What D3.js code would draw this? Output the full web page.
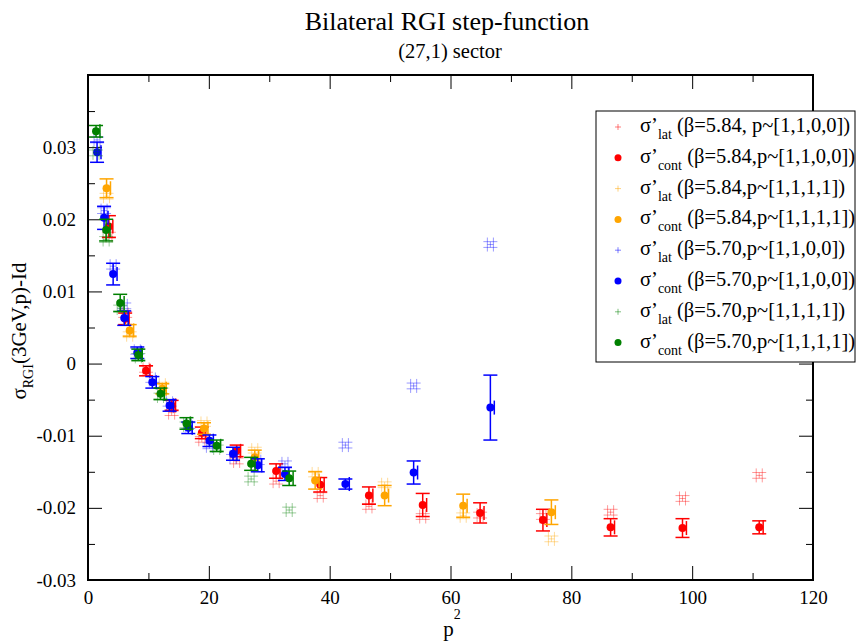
<!DOCTYPE html>
<html>
<head>
<meta charset="utf-8">
<script src="https://cdn.jsdelivr.net/npm/d3@7"></script>
<style>
  body { margin: 0; background: #fff; }
  text { font-family: "Liberation Serif", "Times New Roman", serif; fill: #000; }
</style>
</head>
<body>
<div id="container"></div>
<script>
const width = 861,
  height = 644,
  margin = { top: 75, bottom: 64, left: 88, right: 48 };

// p^2 positions of each momentum set
const p2_584_1100 = [3.46, 6.15, 9.61, 13.84, 18.84, 24.6, 31.14, 38.44, 46.5, 55.4, 64.9, 75.3, 86.5, 98.4, 111.1];
const p2_584_1111 = [3.07, 6.9, 12.3, 19.2, 27.6, 37.6, 49.1, 62.1, 76.7];
const p2_570_1100 = [1.5, 2.66, 4.16, 6.0, 8.16, 10.65, 13.5, 16.6, 20.1, 24.0, 28.1, 32.6, 42.6, 53.9, 66.6];
const p2_570_1111 = [1.33, 3.0, 5.33, 8.33, 12.0, 16.3, 21.3, 27.0, 33.3];

// sigma'_lat values
const lat_584_1100 = [0.0178, 0.0068, -0.0008, -0.0068, -0.0105, -0.0135, -0.0163, -0.0183, -0.0198, -0.0212, -0.0210, -0.0212, -0.0206, -0.0187, -0.0155];
const lat_584_1111 = [0.0232, 0.0040, -0.0030, -0.0083, -0.0120, -0.0153, -0.0168, -0.0211, -0.0243];
const lat_570_1100 = [0.0310, 0.0212, 0.0135, 0.0080, 0.0017, -0.0022, -0.0055, -0.0086, -0.0114, -0.0130, -0.0136, -0.0139, -0.0113, -0.0031, 0.0165];
const lat_570_1111 = [0.0292, 0.0172, 0.0077, 0.0010, -0.0045, -0.0085, -0.0117, -0.0160, -0.0203];

// sigma'_cont values and errors
const cont_584_1100 = [0.0190, 0.0062, -0.0010, -0.0058, -0.0096, -0.0121, -0.0149, -0.0168, -0.0183, -0.0196, -0.0207, -0.0217, -0.0227, -0.0228, -0.0227];
const err_584_1100 = [0.0015, 0.0008, 0.0007, 0.0007, 0.0008, 0.0008, 0.0010, 0.0010, 0.0012, 0.0016, 0.0014, 0.0015, 0.0012, 0.0013, 0.0009];
const cont_584_1111 = [0.0243, 0.0046, -0.0035, -0.0090, -0.0130, -0.0162, -0.0183, -0.0197, -0.0206];
const err_584_1111 = [0.0013, 0.0008, 0.0007, 0.0008, 0.0010, 0.0012, 0.0014, 0.0016, 0.0017];
const cont_570_1100 = [0.0293, 0.0202, 0.0124, 0.0063, 0.0015, -0.0026, -0.0058, -0.0089, -0.0107, -0.0125, -0.0141, -0.0153, -0.0167, -0.0151, -0.0061];
const err_570_1100 = [0.0014, 0.0016, 0.0015, 0.0010, 0.0008, 0.0008, 0.0008, 0.0008, 0.0008, 0.0009, 0.0009, 0.0009, 0.0007, 0.0016, 0.0045];
const cont_570_1111 = [0.0322, 0.0185, 0.0084, 0.0012, -0.0042, -0.0083, -0.0114, -0.0139, -0.0159];
const err_570_1111 = [0.0008, 0.0015, 0.0012, 0.0008, 0.0008, 0.0008, 0.0008, 0.0009, 0.0010];

const latErrY = 0.0004, latErrX = 0.5, contErrX = 0.65;

const legendLabels = [
  ["lat", " (β=5.84, p~[1,1,0,0])"],
  ["cont", " (β=5.84,p~[1,1,0,0])"],
  ["lat", " (β=5.84,p~[1,1,1,1])"],
  ["cont", " (β=5.84,p~[1,1,1,1])"],
  ["lat", " (β=5.70,p~[1,1,0,0])"],
  ["cont", " (β=5.70,p~[1,1,0,0])"],
  ["lat", " (β=5.70,p~[1,1,1,1])"],
  ["cont", " (β=5.70,p~[1,1,1,1])"]
];

const zip = (xs, ys, es) => xs.map((x, i) => ({ x, y: ys[i], dy: es ? es[i] : latErrY }));

const series = [
  { kind: "lat", color: "#ff0000", data: zip(p2_584_1100, lat_584_1100) },
  { kind: "cont", color: "#ff0000", data: zip(p2_584_1100, cont_584_1100, err_584_1100) },
  { kind: "lat", color: "#ffa500", data: zip(p2_584_1111, lat_584_1111) },
  { kind: "cont", color: "#ffa500", data: zip(p2_584_1111, cont_584_1111, err_584_1111) },
  { kind: "lat", color: "#0000ff", data: zip(p2_570_1100, lat_570_1100) },
  { kind: "cont", color: "#0000ff", data: zip(p2_570_1100, cont_570_1100, err_570_1100) },
  { kind: "lat", color: "#008000", data: zip(p2_570_1111, lat_570_1111) },
  { kind: "cont", color: "#008000", data: zip(p2_570_1111, cont_570_1111, err_570_1111) }
];

const svg = d3.select("#container").append("svg")
  .attr("width", width)
  .attr("height", height);

// + SCALES
const xScale = d3.scaleLinear().domain([0, 120]).range([margin.left, width - margin.right]);
const yScale = d3.scaleLinear().domain([-0.03, 0.04]).range([height - margin.bottom, margin.top]);

const x0 = xScale.range()[0], x1 = xScale.range()[1];
const y0 = yScale.range()[0], y1 = yScale.range()[1];

const fmtY = d => Math.abs(d) < 1e-9 ? "0" : d.toFixed(2);
const yMajor = [-0.03, -0.02, -0.01, 0, 0.01, 0.02, 0.03];
const yMinor = [-0.025, -0.015, -0.005, 0.005, 0.015, 0.025, 0.035];
const xMajor = [0, 20, 40, 60, 80, 100, 120];
const xMinor = [10, 30, 50, 70, 90, 110];

const noDomain = g => g.select(".domain").remove();

// + AXES (ticks pointing inward on all four sides)
svg.append("g").attr("transform", `translate(0, ${y0})`)
  .call(d3.axisBottom(xScale).tickValues(xMajor).tickSize(-14).tickPadding(11).tickFormat(d3.format("d")))
  .call(noDomain);
svg.append("g").attr("transform", `translate(0, ${y0})`)
  .call(d3.axisBottom(xScale).tickValues(xMinor).tickSize(-7).tickFormat(""))
  .call(noDomain);
svg.append("g").attr("transform", `translate(0, ${y1})`)
  .call(d3.axisTop(xScale).tickValues(xMajor).tickSize(-14).tickFormat(""))
  .call(noDomain);
svg.append("g").attr("transform", `translate(0, ${y1})`)
  .call(d3.axisTop(xScale).tickValues(xMinor).tickSize(-7).tickFormat(""))
  .call(noDomain);

svg.append("g").attr("transform", `translate(${x0}, 0)`)
  .call(d3.axisLeft(yScale).tickValues(yMajor).tickSize(-14).tickPadding(12).tickFormat(fmtY))
  .call(noDomain);
svg.append("g").attr("transform", `translate(${x0}, 0)`)
  .call(d3.axisLeft(yScale).tickValues(yMinor).tickSize(-7).tickFormat(""))
  .call(noDomain);
svg.append("g").attr("transform", `translate(${x1}, 0)`)
  .call(d3.axisRight(yScale).tickValues(yMajor).tickSize(-14).tickFormat(""))
  .call(noDomain);
svg.append("g").attr("transform", `translate(${x1}, 0)`)
  .call(d3.axisRight(yScale).tickValues(yMinor).tickSize(-7).tickFormat(""))
  .call(noDomain);

svg.selectAll(".tick line").attr("stroke", "#000").attr("stroke-width", 1);
svg.selectAll(".tick text")
  .style("font-family", '"Liberation Serif", "Times New Roman", serif')
  .style("font-size", "19px");

// frame
svg.append("rect")
  .attr("x", x0).attr("y", y1)
  .attr("width", x1 - x0).attr("height", y0 - y1)
  .attr("fill", "none").attr("stroke", "#000").attr("stroke-width", 2);

// + DRAW POINTS
const plot = svg.append("g");

function drawErr(g, color, d, dx, dy, cap, width, opacity, oneSided) {
  const cx = xScale(d.x), cy = yScale(d.y);
  const ya = yScale(d.y + dy), yb = yScale(d.y - dy);
  const xa = oneSided ? cx : xScale(d.x - dx), xb = xScale(d.x + dx);
  const segs = [
    [cx, ya, cx, yb], [cx - cap, ya, cx + cap, ya], [cx - cap, yb, cx + cap, yb],
    [xa, cy, xb, cy], [xb, cy - cap, xb, cy + cap]
  ];
  if (!oneSided) segs.push([xa, cy - cap, xa, cy + cap]);
  g.selectAll("line.e")
    .data(segs)
    .join("line")
    .attr("class", "e")
    .attr("x1", s => s[0]).attr("y1", s => s[1])
    .attr("x2", s => s[2]).attr("y2", s => s[3])
    .attr("stroke", color)
    .attr("stroke-width", width)
    .attr("stroke-opacity", opacity);
}

series.forEach(s => {
  const grp = plot.append("g").attr("class", s.kind);
  grp.selectAll("g.pt")
    .data(s.data)
    .join("g")
    .attr("class", "pt")
    .each(function (d) {
      const g = d3.select(this);
      if (s.kind === "lat") {
        drawErr(g, s.color, d, latErrX, d.dy, 7, 1, 0.4, false);
      } else {
        drawErr(g, s.color, d, contErrX, d.dy, 7, 1.5, 1, true);
        g.append("circle")
          .attr("cx", xScale(d.x)).attr("cy", yScale(d.y))
          .attr("r", 4).attr("fill", s.color);
      }
    });
});

// + LEGEND
const legend = svg.append("g").attr("transform", "translate(596, 111)");
legend.append("rect")
  .attr("width", 259).attr("height", 251)
  .attr("fill", "#fff").attr("stroke", "#000").attr("stroke-width", 1);

const rows = legend.selectAll("g.row")
  .data(series)
  .join("g")
  .attr("class", "row")
  .attr("transform", (d, i) => `translate(0, ${16 + i * 30.8})`);

rows.each(function (d) {
  const g = d3.select(this);
  if (d.kind === "lat") {
    g.append("path").attr("d", "M19,0H25M22,-3V3")
      .attr("stroke", d.color).attr("stroke-opacity", 0.5).attr("stroke-width", 1);
  } else {
    g.append("circle").attr("cx", 22).attr("cy", 0).attr("r", 3.5).attr("fill", d.color);
  }
});

const rowText = rows.append("text")
  .attr("x", 44).attr("y", 5)
  .style("font-size", "20.5px");
rowText.append("tspan").text("σ’");
rowText.append("tspan")
  .attr("dy", 7).style("font-size", "14px")
  .text((d, i) => legendLabels[i][0]);
rowText.append("tspan")
  .attr("dy", -7)
  .text((d, i) => legendLabels[i][1]);

// + TITLES
svg.append("text")
  .attr("x", 447).attr("y", 30)
  .attr("text-anchor", "middle")
  .style("font-size", "26px")
  .text("Bilateral RGI step-function");
svg.append("text")
  .attr("x", 450).attr("y", 58)
  .attr("text-anchor", "middle")
  .style("font-size", "20.5px")
  .text("(27,1) sector");

// x label p^2
const xl = svg.append("text")
  .attr("x", 452).attr("y", 636)
  .attr("text-anchor", "middle")
  .style("font-size", "21px");
xl.append("tspan").text("p");
xl.append("tspan").attr("dy", -17).style("font-size", "14px").text("2");

// y label
const yl = svg.append("text")
  .attr("transform", "translate(26, 331) rotate(-90)")
  .attr("text-anchor", "middle")
  .style("font-size", "21px");
yl.append("tspan").text("σ");
yl.append("tspan").attr("dy", 7).style("font-size", "14px").text("RGI");
yl.append("tspan").attr("dy", -7).text("(3GeV,p)-Id");
</script>
</body>
</html>
